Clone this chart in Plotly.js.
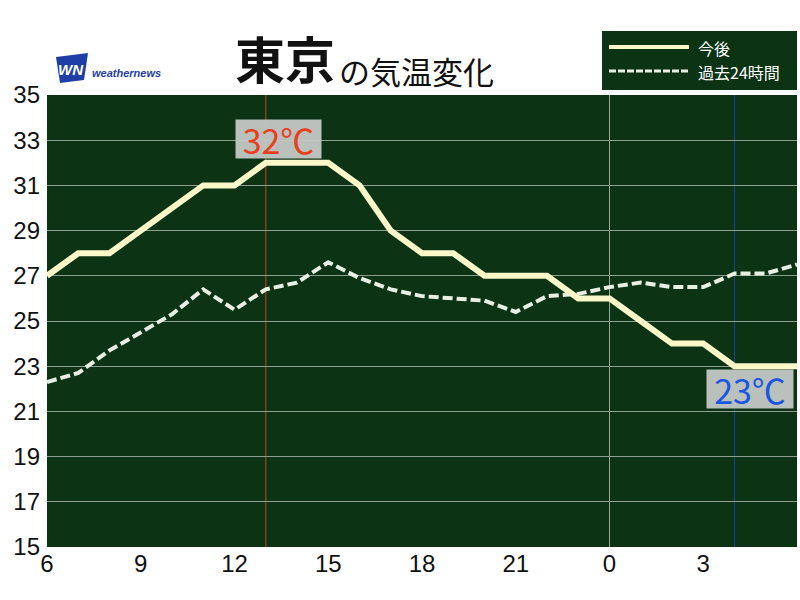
<!DOCTYPE html>
<html>
<head>
<meta charset="utf-8">
<script src="https://cdn.plot.ly/plotly-3.0.1.min.js"></script>
<style>html,body{margin:0;padding:0;background:#fff;}#chart{width:800px;height:600px;}</style>
</head>
<body>
<div id="chart"></div>
<script>
// ---- data ----
const hours = [6,7,8,9,10,11,12,13,14,15,16,17,18,19,20,21,22,23,24,25,26,27,28,29,30];
const forecast = [27,28,28,29,30,31,31,32,32,32,31,29,28,28,27,27,27,26,26,25,24,24,23,23,23];
const past24h = [22.3,22.7,23.7,24.5,25.3,26.4,25.5,26.4,26.7,27.6,26.9,26.4,26.1,26.0,25.9,25.4,26.1,26.2,26.5,26.7,26.5,26.5,27.1,27.1,27.5];
const tickHours = [6,9,12,15,18,21,24,27];
const tickLabels = ['6','9','12','15','18','21','0','3'];
const yTicks = [15,17,19,21,23,25,27,29,31,33,35];
const maxHour = 13, maxTemp = 32, minHour = 28, minTemp = 23;
const midnight = 24;
const seriesNames = ['今後','過去24時間'];

// ---- layout helpers (pixel -> paper) ----
const L = 47, R = 797, T = 95, B = 547;
const px = v => (v - L) / (R - L);
const py = v => (B - v) / (B - T);

const numFont = '"Liberation Sans", Arial, sans-serif';
const jpFont = '"Noto Sans CJK JP", sans-serif';

const traces = [
  {x: hours, y: past24h, mode: 'lines', name: seriesNames[1], line: {color: '#e9efe2', width: 4, dash: '10px,4px'}, hoverinfo: 'skip'},
  {x: hours, y: forecast, mode: 'lines', name: seriesNames[0], line: {color: '#fcf7c9', width: 6}, hoverinfo: 'skip'}
];

const shapes = [
  {type: 'line', xref: 'x', yref: 'paper', x0: midnight, x1: midnight, y0: 0, y1: 1, line: {color: '#9aa89a', width: 1}, layer: 'below'},
  {type: 'line', xref: 'x', yref: 'paper', x0: maxHour, x1: maxHour, y0: 0, y1: 1, line: {color: '#8a3c1c', width: 1.5}, layer: 'below'},
  {type: 'line', xref: 'x', yref: 'paper', x0: minHour, x1: minHour, y0: 0, y1: 1, line: {color: '#1d3f8e', width: 1.2}, layer: 'below'},
  // legend box
  {type: 'rect', xref: 'paper', yref: 'paper', x0: px(602), x1: px(797), y0: py(90), y1: py(31), fillcolor: '#0b3314', line: {width: 0}},
  {type: 'line', xref: 'paper', yref: 'paper', x0: px(609), x1: px(689), y0: py(47), y1: py(47), line: {color: '#fcf7c9', width: 4}},
  {type: 'line', xref: 'paper', yref: 'paper', x0: px(609), x1: px(689), y0: py(71), y1: py(71), line: {color: '#e9efe2', width: 3, dash: '7px,2px'}},
  // logo
  {type: 'path', xref: 'paper', yref: 'paper',
   path: `M ${px(60)} ${py(83)} L ${px(56)} ${py(57)} L ${px(88)} ${py(53)} L ${px(84)} ${py(80)} Z`,
   fillcolor: '#1f3fa6', line: {width: 0}}
];

const annotations = [
  {xref: 'paper', yref: 'paper', x: px(233), y: py(57), xanchor: 'left', yanchor: 'middle', text: '<b>東京</b>', showarrow: false, font: {family: jpFont, size: 50, color: '#111'}},
  {xref: 'paper', yref: 'paper', x: px(337), y: py(70), xanchor: 'left', yanchor: 'middle', text: 'の気温変化', showarrow: false, font: {family: jpFont, size: 31, color: '#111'}},
  {xref: 'paper', yref: 'paper', x: px(696), y: py(48), xanchor: 'left', yanchor: 'middle', text: seriesNames[0], showarrow: false, font: {family: jpFont, size: 16, color: '#fff'}},
  {xref: 'paper', yref: 'paper', x: px(696), y: py(72), xanchor: 'left', yanchor: 'middle', text: seriesNames[1], showarrow: false, font: {family: jpFont, size: 16, color: '#fff'}},
  {xref: 'paper', yref: 'paper', x: px(71), y: py(69), xanchor: 'center', yanchor: 'middle', text: '<b><i>WN</i></b>', showarrow: false, font: {family: numFont, size: 15, color: '#fff'}},
  {xref: 'paper', yref: 'paper', x: px(90), y: py(73), xanchor: 'left', yanchor: 'middle', text: '<b><i>weathernews</i></b>', showarrow: false, font: {family: numFont, size: 11, color: '#1f3fa6'}},
  {x: maxHour, y: maxTemp, xref: 'x', yref: 'y', text: maxTemp + '℃', showarrow: false, xshift: 13, yshift: 24,
   width: 85, height: 38, valign: 'middle', align: 'center',
   font: {family: jpFont, size: 34, color: '#e8401e'}, bgcolor: 'rgba(196,200,196,0.95)', borderpad: 0},
  {x: minHour, y: minTemp, xref: 'x', yref: 'y', text: minTemp + '℃', showarrow: false, xshift: 15, yshift: -23,
   width: 86, height: 38, valign: 'middle', align: 'center',
   font: {family: jpFont, size: 34, color: '#1a56e0'}, bgcolor: 'rgba(196,200,196,0.95)', borderpad: 0}
];

const layout = {
  width: 800, height: 600,
  margin: {l: L, r: 800 - R, t: T, b: 600 - B, pad: 0},
  paper_bgcolor: '#ffffff',
  plot_bgcolor: '#0b3314',
  showlegend: false,
  xaxis: {
    range: [6, 30], tickvals: tickHours, ticktext: tickLabels, showgrid: false, zeroline: false,
    ticks: '', tickfont: {family: numFont, size: 24, color: '#111'}, showline: false, fixedrange: true
  },
  yaxis: {
    range: [15, 35], tickvals: yTicks, showgrid: true, gridcolor: '#8e9e8e', gridwidth: 1, zeroline: false,
    ticks: '', tickfont: {family: numFont, size: 24, color: '#111'}, ticklabelstandoff: 6, showline: false, fixedrange: true
  },
  shapes: shapes,
  annotations: annotations
};

Plotly.newPlot('chart', traces, layout, {staticPlot: true, displayModeBar: false});
</script>
</body>
</html>
